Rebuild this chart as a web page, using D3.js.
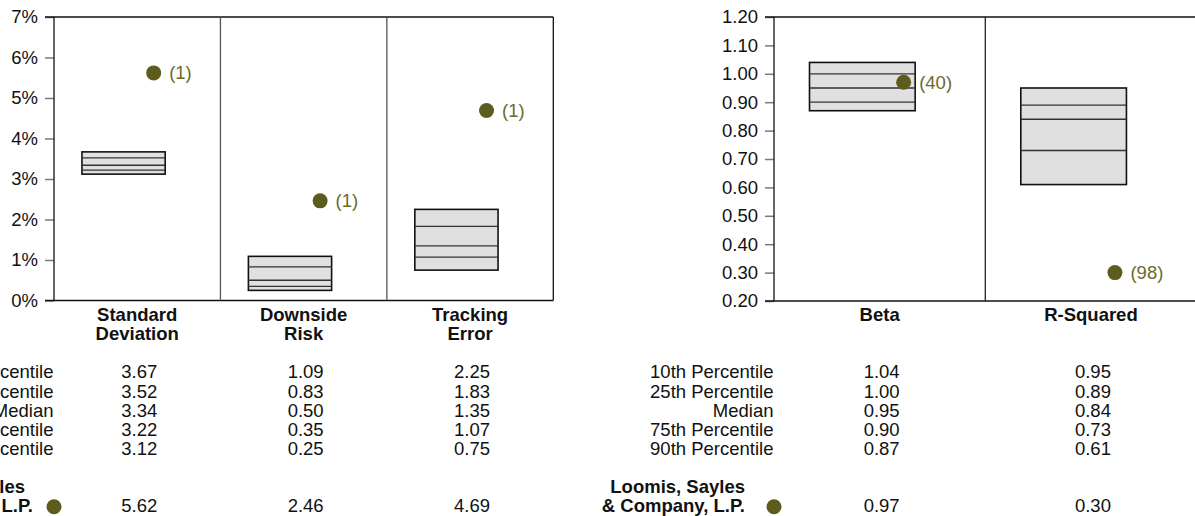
<!DOCTYPE html>
<html>
<head>
<meta charset="utf-8">
<script src="https://cdn.jsdelivr.net/npm/d3@7/dist/d3.min.js"></script>
<style>
  html, body { margin: 0; padding: 0; background: #fff; }
  svg { display: block; font-family: "Liberation Sans", Arial, sans-serif; }
</style>
</head>
<body>
<svg id="chart" width="1195" height="516"></svg>
<script>
// ---------- data ----------
const leftCategories = ["Standard Deviation", "Downside Risk", "Tracking Error"];
const leftP10 = [3.67, 1.09, 2.25];
const leftP25 = [3.52, 0.83, 1.83];
const leftMedian = [3.34, 0.50, 1.35];
const leftP75 = [3.22, 0.35, 1.07];
const leftP90 = [3.12, 0.25, 0.75];
const leftManager = [5.62, 2.46, 4.69];
const leftRank = [1, 1, 1];
const leftTicks = [0, 1, 2, 3, 4, 5, 6, 7];

const rightCategories = ["Beta", "R-Squared"];
const rightP10 = [1.04, 0.95];
const rightP25 = [1.00, 0.89];
const rightMedian = [0.95, 0.84];
const rightP75 = [0.90, 0.73];
const rightP90 = [0.87, 0.61];
const rightManager = [0.97, 0.30];
const rightRank = [40, 98];
const rightTicks = [0.20, 0.30, 0.40, 0.50, 0.60, 0.70, 0.80, 0.90, 1.00, 1.10, 1.20];

const rowLabels = ["10th Percentile", "25th Percentile", "Median", "75th Percentile", "90th Percentile"];
const managerName = ["Loomis, Sayles", "& Company, L.P."];

// ---------- styles ----------
const FONT = 18.5;
const DOT = "#5d5b1e";
const DOT_TEXT = "#6b6a2e";
const BOX_FILL = "#e0e0e0";

const svg = d3.select("#chart");

function drawChart(o) {
  const g = svg.append("g");
  const y = d3.scaleLinear().domain(o.domain).range([o.bottom, o.top]);
  const x = d3.scaleBand().domain(o.cats).range([o.x0, o.x1]).paddingInner(0).paddingOuter(0);
  const bw = x.bandwidth();

  // axis
  const axis = d3.axisLeft(y).tickValues(o.ticks).tickSize(9).tickPadding(7).tickFormat(o.fmt);
  const ax = g.append("g").attr("transform", `translate(${o.x0},0)`).call(axis);
  ax.select(".domain").remove();
  ax.selectAll(".tick line").attr("stroke", "#7a7a7a").attr("stroke-width", 1.5);
  ax.selectAll(".tick text")
    .attr("font-size", FONT).attr("fill", "#111")
    .attr("font-family", '"Liberation Sans", Arial, sans-serif');

  // frame
  g.append("line").attr("x1", o.x0 - 9).attr("x2", o.x1).attr("y1", o.top).attr("y2", o.top)
    .attr("stroke", "#111").attr("stroke-width", 1.3);
  g.append("line").attr("x1", o.x0 - 9).attr("x2", o.x1).attr("y1", o.bottom).attr("y2", o.bottom)
    .attr("stroke", "#111").attr("stroke-width", 1.3);
  g.append("line").attr("x1", o.x0).attr("x2", o.x0).attr("y1", o.top).attr("y2", o.bottom)
    .attr("stroke", "#111").attr("stroke-width", 1.3);
  g.append("line").attr("x1", o.x1).attr("x2", o.x1).attr("y1", o.top).attr("y2", o.bottom)
    .attr("stroke", "#111").attr("stroke-width", 1.3);
  // dividers
  o.cats.slice(1).forEach(c => {
    g.append("line").attr("x1", x(c)).attr("x2", x(c)).attr("y1", o.top).attr("y2", o.bottom)
      .attr("stroke", o.divColor).attr("stroke-width", 1.3);
  });

  const boxX = c => x(c) + bw * 0.168;
  const boxW = bw * 0.5;

  o.cats.forEach((c, i) => {
    const bx = boxX(c);
    g.append("rect")
      .attr("x", bx).attr("y", y(o.p10[i]))
      .attr("width", boxW).attr("height", y(o.p90[i]) - y(o.p10[i]))
      .attr("fill", BOX_FILL).attr("stroke", "#111").attr("stroke-width", 1.6);
    [o.p25[i], o.med[i], o.p75[i]].forEach(v => {
      g.append("line").attr("x1", bx).attr("x2", bx + boxW)
        .attr("y1", y(v)).attr("y2", y(v))
        .attr("stroke", "#333").attr("stroke-width", 1.3);
    });
    const dx = bx + boxW - 11.5;
    g.append("circle").attr("cx", dx).attr("cy", y(o.mgr[i])).attr("r", 7.5).attr("fill", DOT);
    g.append("text").attr("x", dx + 15.5).attr("y", y(o.mgr[i])).attr("dy", "0.35em")
      .attr("font-size", FONT).attr("fill", DOT_TEXT).text(`(${o.rank[i]})`);

    // category label
    const lines = c.split(" ");
    lines.forEach((ln, k) => {
      g.append("text").attr("x", x(c) + bw / 2).attr("y", 321 + k * 18.5)
        .attr("text-anchor", "middle").attr("font-weight", "bold")
        .attr("font-size", FONT).attr("fill", "#111").text(ln);
    });

    // table values
    const vals = [o.p10[i], o.p25[i], o.med[i], o.p75[i], o.p90[i]];
    vals.forEach((v, r) => {
      g.append("text").attr("x", x(c) + bw / 2 + 2).attr("y", 378.3 + r * 19.2)
        .attr("text-anchor", "middle").attr("font-size", FONT).attr("fill", "#111")
        .text(d3.format(".2f")(v));
    });
    g.append("text").attr("x", x(c) + bw / 2 + 2).attr("y", 512.3)
      .attr("text-anchor", "middle").attr("font-size", FONT).attr("fill", "#111")
      .text(d3.format(".2f")(o.mgr[i]));
  });

  // row labels
  rowLabels.forEach((lab, r) => {
    g.append("text").attr("x", o.x0 - 0.5).attr("y", 378.3 + r * 19.2)
      .attr("text-anchor", "end").attr("font-size", FONT).attr("fill", "#111").text(lab);
  });
  // manager legend
  managerName.forEach((ln, k) => {
    g.append("text").attr("x", o.x0 - o.nameOffsets[k]).attr("y", 493.3 + k * 19)
      .attr("text-anchor", "end").attr("font-weight", "bold")
      .attr("font-size", FONT).attr("fill", "#111").text(ln);
  });
  g.append("circle").attr("cx", o.x0).attr("cy", 506.7).attr("r", 7.5).attr("fill", DOT);
}

drawChart({
  x0: 54, x1: 553.3, top: 17, bottom: 300.5,
  domain: [0, 7], ticks: leftTicks, fmt: d => d + "%",
  cats: leftCategories, p10: leftP10, p25: leftP25, med: leftMedian, p75: leftP75, p90: leftP90,
  mgr: leftManager, rank: leftRank, divColor: "#555", nameOffsets: [29, 21]
});

drawChart({
  x0: 774, x1: 1196.6, top: 17, bottom: 301,
  domain: [0.2, 1.2], ticks: rightTicks, fmt: d3.format(".2f"),
  cats: rightCategories, p10: rightP10, p25: rightP25, med: rightMedian, p75: rightP75, p90: rightP90,
  mgr: rightManager, rank: rightRank, divColor: "#222", nameOffsets: [29, 29]
});
</script>
</body>
</html>
